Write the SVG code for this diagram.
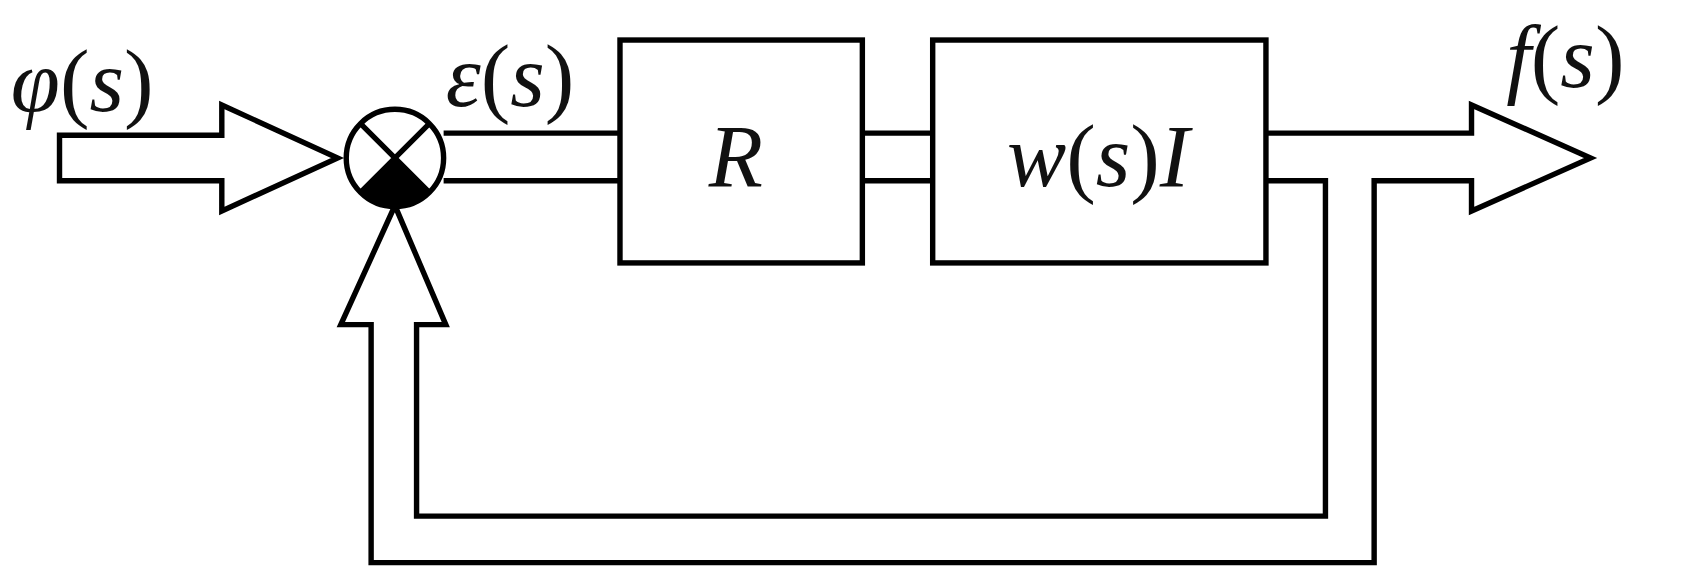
<svg xmlns="http://www.w3.org/2000/svg" width="1688" height="584" viewBox="0 0 1688 584">
<style>
.s{fill:none;stroke:#000;stroke-width:5;stroke-linejoin:miter}
.w{fill:#fff;stroke:#000;stroke-width:5}
text{font-family:'Liberation Serif','Times New Roman','DejaVu Serif',serif;font-size:82px;fill:#111}
.i{font-style:italic}
</style>
<rect width="1688" height="584" fill="#fff"/>
<g transform="scale(1.082)">
<g id="connectors">
<path class="s" d="M55,125 H205 V97 L312,146 L205,195 V167 H55 Z"/>
<path class="s" d="M410,123 H573 M410,167 H573"/>
<path class="s" d="M797,123 H862 M797,167 H862"/>
<path class="s" d="M1170,123 H1360 V97 L1470,146 L1360,195 V167 H1270 V520 H343 V300 H315 L365,190 L412,300 H385 V477 H1225 V167 H1170"/>
</g>
<g id="sum">
<circle class="w" cx="365" cy="146" r="45"/>
<path d="M365,146 L396.8,177.8 A45,45 0 0 1 333.2,177.8 Z" fill="#000"/>
<path class="s" d="M333.2,114.2 L396.8,177.8 M396.8,114.2 L333.2,177.8"/>
</g>
<g id="R"><rect class="w" x="573" y="37" width="224" height="206"/><text class="i" x="680" y="172" text-anchor="middle">R</text></g>
<g id="W"><rect class="w" x="862" y="37" width="308" height="206"/><text x="1015" y="172" text-anchor="middle"><tspan class="i">w</tspan>(<tspan class="i">s</tspan>)<tspan class="i">I</tspan></text></g>
<text x="10" y="103"><tspan class="i">φ</tspan>(<tspan class="i">s</tspan>)</text>
<text x="412" y="98"><tspan class="i">ε</tspan>(<tspan class="i">s</tspan>)</text>
<text x="1392" y="80"><tspan class="i">f</tspan>(<tspan class="i">s</tspan>)</text>
</g>
</svg>
